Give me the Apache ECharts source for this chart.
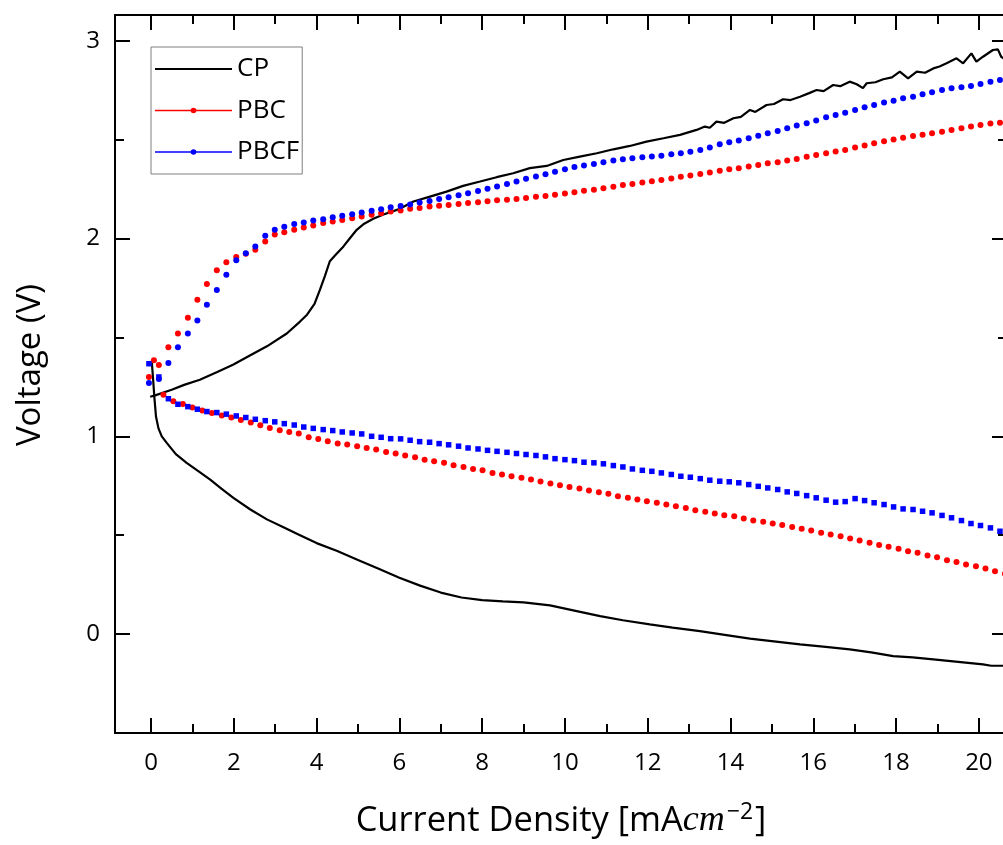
<!DOCTYPE html>
<html>
<head>
<meta charset="utf-8">
<title>Polarization curves</title>
<script src="https://cdn.jsdelivr.net/npm/echarts@6/dist/echarts.min.js"></script>
<style>
  html, body { margin: 0; padding: 0; background: #fff; }
  #chart { width: 1003px; height: 845px; }
</style>
</head>
<body>
<div id="chart"></div>
<script>
// Tick positions on both axes
const xMajorTicks = [0, 2, 4, 6, 8, 10, 12, 14, 16, 18, 20];
const xMinorTicks = [1, 3, 5, 7, 9, 11, 13, 15, 17, 19];
const yMajorTicks = [0, 1, 2, 3];
const yMinorTicks = [0.5, 1.5, 2.5];

// CP: continuous trace, charge (upper) and discharge (lower) branches
const cpChargeJ = [-0.02, 0.10, 0.50, 0.80, 1.18, 1.60, 1.98, 2.40, 2.80, 3.28, 3.60, 3.77, 3.95, 4.08, 4.20, 4.32, 4.45, 4.65, 4.80, 4.97, 5.15, 5.37, 5.60, 6.01, 6.34, 6.74, 7.14, 7.54, 7.95, 8.35, 8.75, 9.15, 9.56, 9.96, 10.36, 10.77, 11.17, 11.57, 11.97, 12.38, 12.78, 13.18, 13.38, 13.50, 13.66, 13.85, 14.07, 14.25, 14.47, 14.60, 14.87, 15.05, 15.27, 15.45, 15.68, 15.90, 16.08, 16.25, 16.48, 16.65, 16.88, 17.05, 17.20, 17.29, 17.50, 17.69, 17.90, 18.09, 18.29, 18.50, 18.70, 18.90, 19.05, 19.22, 19.46, 19.62, 19.82, 19.94, 20.10, 20.34, 20.46, 20.54, 20.60];
const cpChargeV = [1.200, 1.207, 1.235, 1.260, 1.286, 1.325, 1.362, 1.410, 1.455, 1.520, 1.580, 1.615, 1.670, 1.740, 1.810, 1.885, 1.915, 1.960, 2.000, 2.044, 2.075, 2.100, 2.120, 2.150, 2.187, 2.212, 2.237, 2.266, 2.288, 2.310, 2.330, 2.356, 2.367, 2.397, 2.414, 2.431, 2.451, 2.468, 2.490, 2.507, 2.524, 2.549, 2.566, 2.560, 2.591, 2.585, 2.608, 2.615, 2.650, 2.640, 2.675, 2.680, 2.704, 2.700, 2.717, 2.735, 2.751, 2.745, 2.776, 2.770, 2.793, 2.780, 2.760, 2.785, 2.790, 2.805, 2.815, 2.844, 2.810, 2.844, 2.838, 2.860, 2.870, 2.886, 2.911, 2.886, 2.936, 2.894, 2.919, 2.953, 2.956, 2.919, 2.910];
const cpDischargeJ = [0.02, 0.05, 0.08, 0.12, 0.18, 0.26, 0.38, 0.60, 0.86, 1.10, 1.43, 1.70, 1.99, 2.40, 2.80, 3.20, 3.60, 4.00, 4.50, 5.00, 5.50, 6.00, 6.50, 7.00, 7.50, 8.00, 8.50, 9.00, 9.64, 10.20, 10.85, 11.40, 12.05, 12.60, 13.26, 13.90, 14.47, 15.10, 15.68, 16.30, 16.88, 17.40, 17.93, 18.40, 18.90, 19.50, 20.10, 20.30, 20.60];
const cpDischargeV = [1.374, 1.290, 1.200, 1.100, 1.040, 1.000, 0.967, 0.910, 0.866, 0.830, 0.781, 0.735, 0.689, 0.630, 0.580, 0.540, 0.500, 0.460, 0.420, 0.375, 0.330, 0.285, 0.245, 0.210, 0.185, 0.172, 0.165, 0.160, 0.145, 0.120, 0.091, 0.070, 0.049, 0.033, 0.015, -0.005, -0.023, -0.038, -0.052, -0.065, -0.077, -0.092, -0.111, -0.118, -0.128, -0.140, -0.153, -0.160, -0.160];

// Sampled current densities (mA cm^-2) for the PBC / PBCF sweeps
const sweepJ = [-0.05, 0.19, 0.42, 0.65, 0.89, 1.12, 1.35, 1.59, 1.82, 2.06, 2.29, 2.52, 2.76, 2.99, 3.22, 3.46, 3.69, 3.92, 4.16, 4.39, 4.62, 4.86, 5.09, 5.33, 5.56, 5.79, 6.03, 6.26, 6.49, 6.73, 6.96, 7.19, 7.43, 7.66, 7.90, 8.13, 8.36, 8.60, 8.83, 9.06, 9.30, 9.53, 9.76, 10.00, 10.23, 10.46, 10.70, 10.93, 11.17, 11.40, 11.63, 11.87, 12.10, 12.33, 12.57, 12.80, 13.03, 13.27, 13.50, 13.74, 13.97, 14.20, 14.44, 14.67, 14.90, 15.14, 15.37, 15.60, 15.84, 16.07, 16.31, 16.54, 16.77, 17.01, 17.24, 17.47, 17.71, 17.94, 18.17, 18.41, 18.64, 18.87, 19.11, 19.34, 19.58, 19.81, 20.04, 20.28, 20.51];
const pbcDischargeJ = [0.07, 0.30, 0.54, 0.77, 1.00, 1.24, 1.47, 1.71, 1.94, 2.17, 2.41, 2.64, 2.87, 3.11, 3.34, 3.57, 3.81, 4.04, 4.27, 4.51, 4.74, 4.98, 5.21, 5.44, 5.68, 5.91, 6.14, 6.38, 6.61, 6.84, 7.08, 7.31, 7.55, 7.78, 8.01, 8.25, 8.48, 8.71, 8.95, 9.18, 9.41, 9.65, 9.88, 10.11, 10.35, 10.58, 10.82, 11.05, 11.28, 11.52, 11.75, 11.98, 12.22, 12.45, 12.68, 12.92, 13.15, 13.39, 13.62, 13.85, 14.09, 14.32, 14.55, 14.79, 15.02, 15.25, 15.49, 15.72, 15.95, 16.19, 16.42, 16.66, 16.89, 17.12, 17.36, 17.59, 17.82, 18.06, 18.29, 18.52, 18.76, 18.99, 19.23, 19.46, 19.69, 19.93, 20.16, 20.39, 20.63];

// PBC voltages (V)
const pbcChargeV = [1.30, 1.36, 1.45, 1.52, 1.60, 1.69, 1.77, 1.84, 1.88, 1.906, 1.923, 1.943, 1.985, 2.02, 2.032, 2.044, 2.056, 2.066, 2.078, 2.086, 2.094, 2.103, 2.111, 2.12, 2.128, 2.137, 2.142, 2.15, 2.154, 2.162, 2.166, 2.17, 2.175, 2.179, 2.183, 2.188, 2.193, 2.196, 2.2, 2.205, 2.211, 2.215, 2.221, 2.228, 2.234, 2.241, 2.246, 2.254, 2.262, 2.27, 2.276, 2.283, 2.29, 2.296, 2.304, 2.312, 2.318, 2.326, 2.334, 2.342, 2.35, 2.355, 2.364, 2.372, 2.38, 2.386, 2.394, 2.402, 2.413, 2.422, 2.431, 2.44, 2.448, 2.46, 2.47, 2.481, 2.492, 2.501, 2.51, 2.518, 2.525, 2.532, 2.54, 2.549, 2.557, 2.566, 2.574, 2.582, 2.585];
const pbcDischargeV = [1.385, 1.21, 1.177, 1.163, 1.146, 1.131, 1.118, 1.105, 1.095, 1.083, 1.07, 1.056, 1.042, 1.03, 1.022, 1.014, 0.995, 0.987, 0.975, 0.963, 0.958, 0.95, 0.941, 0.933, 0.921, 0.913, 0.903, 0.894, 0.882, 0.874, 0.866, 0.854, 0.845, 0.835, 0.828, 0.815, 0.807, 0.798, 0.79, 0.781, 0.771, 0.761, 0.753, 0.744, 0.736, 0.726, 0.717, 0.709, 0.697, 0.689, 0.68, 0.672, 0.664, 0.655, 0.646, 0.638, 0.626, 0.618, 0.61, 0.601, 0.596, 0.584, 0.574, 0.568, 0.559, 0.551, 0.542, 0.532, 0.524, 0.512, 0.504, 0.495, 0.483, 0.473, 0.462, 0.45, 0.441, 0.431, 0.419, 0.411, 0.397, 0.389, 0.374, 0.364, 0.352, 0.343, 0.332, 0.318, 0.305];

// PBCF voltages (V)
const pbcfChargeV = [1.27, 1.29, 1.37, 1.45, 1.52, 1.586, 1.665, 1.74, 1.817, 1.89, 1.926, 1.96, 2.014, 2.044, 2.06, 2.073, 2.081, 2.091, 2.098, 2.108, 2.115, 2.123, 2.131, 2.14, 2.148, 2.158, 2.164, 2.172, 2.182, 2.19, 2.2, 2.209, 2.219, 2.229, 2.24, 2.251, 2.263, 2.276, 2.288, 2.302, 2.313, 2.325, 2.338, 2.35, 2.361, 2.369, 2.377, 2.386, 2.394, 2.401, 2.406, 2.411, 2.414, 2.418, 2.426, 2.431, 2.439, 2.448, 2.46, 2.477, 2.487, 2.495, 2.507, 2.519, 2.532, 2.544, 2.557, 2.571, 2.583, 2.596, 2.613, 2.625, 2.636, 2.65, 2.664, 2.675, 2.687, 2.697, 2.709, 2.717, 2.729, 2.739, 2.751, 2.76, 2.765, 2.771, 2.781, 2.793, 2.801];
const pbcfDischargeV = [1.367, 1.30, 1.19, 1.162, 1.15, 1.137, 1.125, 1.12, 1.112, 1.103, 1.095, 1.086, 1.079, 1.073, 1.064, 1.057, 1.047, 1.04, 1.034, 1.029, 1.022, 1.017, 1.012, 1.0, 0.995, 0.988, 0.987, 0.98, 0.973, 0.97, 0.963, 0.957, 0.95, 0.941, 0.936, 0.929, 0.924, 0.919, 0.913, 0.908, 0.903, 0.896, 0.887, 0.882, 0.877, 0.869, 0.866, 0.861, 0.852, 0.845, 0.835, 0.828, 0.823, 0.815, 0.807, 0.798, 0.793, 0.786, 0.778, 0.773, 0.77, 0.765, 0.756, 0.747, 0.739, 0.731, 0.719, 0.711, 0.70, 0.689, 0.677, 0.667, 0.67, 0.685, 0.675, 0.664, 0.655, 0.643, 0.633, 0.63, 0.621, 0.613, 0.60, 0.588, 0.574, 0.559, 0.549, 0.537, 0.52];

const SANS = '"Open Sans", "Liberation Sans", sans-serif';
const SERIF = '"Liberation Serif", "DejaVu Serif", serif';
const X_RANGE = { min: -0.87, max: 20.68 };
const Y_RANGE = { min: -0.5, max: 3.13 };

function pairs(xs, ys) {
  const n = Math.min(xs.length, ys.length);
  const out = [];
  for (let i = 0; i < n; i++) out.push([xs[i], ys[i]]);
  return out;
}

function frameAxis(position, ticks, len, opts) {
  const horizontal = position === 'top' || position === 'bottom';
  return Object.assign({
    type: 'value',
    position: position,
    min: horizontal ? X_RANGE.min : Y_RANGE.min,
    max: horizontal ? X_RANGE.max : Y_RANGE.max,
    axisLine: { show: false, onZero: false },
    axisTick: { show: true, inside: true, length: len, customValues: ticks,
                lineStyle: { color: '#000', width: 2 } },
    axisLabel: { show: false },
    splitLine: { show: false },
    minorTick: { show: false }
  }, opts || {});
}

const solidFrame = { show: true, onZero: false, lineStyle: { color: '#000', width: 2 } };

const chart = echarts.init(document.getElementById('chart'), null, { renderer: 'canvas' });

const dotSeries = (name, data, color, symbol, size) => ({
  name: name,
  type: 'line',
  data: data,
  symbol: symbol,
  symbolSize: size,
  showSymbol: true,
  showAllSymbol: true,
  itemStyle: { color: color },
  lineStyle: { width: 0, opacity: 0, color: color },
  emphasis: { disabled: true },
  animation: false
});

chart.setOption({
  animation: false,
  backgroundColor: '#fff',
  grid: { left: 115, right: -4, top: 15, bottom: 112, containLabel: false, outerBoundsMode: 'none' },
  legend: {
    orient: 'vertical',
    left: 151,
    top: 47,
    padding: [9, 3, 9, 3],
    itemGap: 15.5,
    itemWidth: 77,
    itemHeight: 7,
    borderColor: '#7f7f7f',
    borderWidth: 1,
    selectedMode: false,
    textStyle: { fontFamily: SANS, fontSize: 26, color: '#000' },
    data: [
      { name: 'CP', itemStyle: { opacity: 0 }, lineStyle: { color: '#000', width: 2, opacity: 1 } },
      { name: 'PBC', itemStyle: { color: '#ff0000' }, lineStyle: { color: '#ff0000', width: 1.5, opacity: 1 } },
      { name: 'PBCF', itemStyle: { color: '#0000ff' }, lineStyle: { color: '#0000ff', width: 1.5, opacity: 1 } }
    ]
  },
  xAxis: [
    frameAxis('bottom', xMajorTicks, 15, {
      axisLine: solidFrame,
      axisLabel: { show: true, customValues: xMajorTicks, fontFamily: SANS, fontSize: 24, color: '#000', margin: 18 },
      name: '{t|Current Density [mA}{i|cm}{s|\u22122}{t|]}',
      nameLocation: 'middle',
      nameGap: 68,
      nameTextStyle: {
        color: '#000',
        rich: {
          t: { fontFamily: SANS, fontSize: 34.5, color: '#000', lineHeight: 40, verticalAlign: 'middle' },
          i: { fontFamily: SERIF, fontStyle: 'italic', fontSize: 36, color: '#000', lineHeight: 40, verticalAlign: 'middle' },
          s: { fontFamily: SANS, fontSize: 23, color: '#000', lineHeight: 22, verticalAlign: 'top', padding: [0, 2, 0, 2] }
        }
      }
    }),
    frameAxis('bottom', xMinorTicks, 9),
    frameAxis('top', xMajorTicks, 15, { axisLine: solidFrame }),
    frameAxis('top', xMinorTicks, 9)
  ],
  yAxis: [
    frameAxis('left', yMajorTicks, 15, {
      axisLine: solidFrame,
      axisLabel: { show: true, customValues: yMajorTicks, fontFamily: SANS, fontSize: 24, color: '#000', margin: 15 },
      name: 'Voltage (V)',
      nameLocation: 'middle',
      nameGap: 68,
      nameRotate: 90,
      nameTextStyle: { fontFamily: SANS, fontSize: 33, color: '#000', padding: [0, 0, 0, 18] }
    }),
    frameAxis('left', yMinorTicks, 9),
    frameAxis('right', yMajorTicks, 15, { axisLine: solidFrame }),
    frameAxis('right', yMinorTicks, 9)
  ],
  series: [
    {
      name: 'CP', type: 'line', data: pairs(cpChargeJ, cpChargeV),
      symbol: 'none', lineStyle: { color: '#000', width: 2.2 }, itemStyle: { color: '#000' },
      emphasis: { disabled: true }
    },
    {
      name: 'CP', type: 'line', data: pairs(cpDischargeJ, cpDischargeV),
      symbol: 'none', lineStyle: { color: '#000', width: 2.2 }, itemStyle: { color: '#000' },
      emphasis: { disabled: true }
    },
    dotSeries('PBC', pairs(sweepJ, pbcChargeV), '#ff0000', 'circle', 6),
    dotSeries('PBC', pairs(pbcDischargeJ, pbcDischargeV), '#ff0000', 'circle', 6),
    dotSeries('PBCF', pairs(sweepJ, pbcfChargeV), '#0000ff', 'circle', 6),
    dotSeries('PBCF', pairs(sweepJ, pbcfDischargeV), '#0000ff', 'rect', 5.5)
  ]
});
</script>
</body>
</html>
